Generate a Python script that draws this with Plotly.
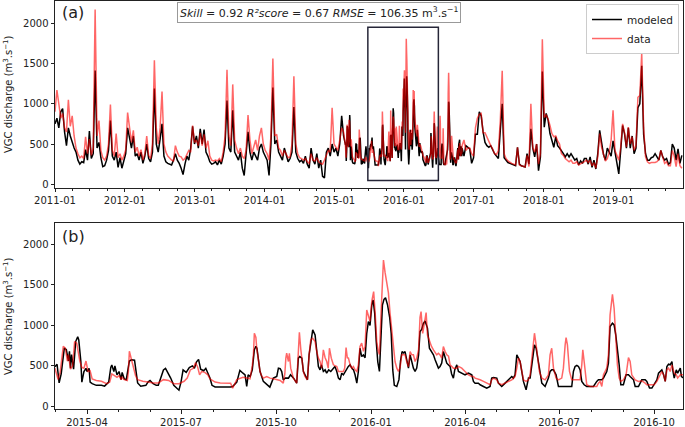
import numpy as np
import pandas as pd
import plotly.graph_objects as go

# ---------------- data ----------------
# Panel (a): values every 10 days from 2011-01-01 (segment A) and from 2016-10-31 (segment C)
top_a_start = "2011-01-01"
top_a_modeled = [
    750, 820, 700, 900, 940, 650, 480, 700, 600, 520, 450, 400, 300, 250, 280, 270, 430, 300, 660, 320,
    380, 1413, 450, 520, 330, 220, 230, 300, 420, 790, 350, 300, 400, 210, 330, 200, 300,
    380, 700, 550, 450, 600, 350, 380, 300, 400, 260, 350, 500, 320, 280, 400, 1190, 500, 400, 560, 750,
    350, 280, 260, 250, 240, 300, 380, 300, 260, 200, 120, 250, 350, 300, 450, 720, 500,
    600, 450, 690, 500, 680, 400, 350, 280, 250, 260, 280, 240, 300, 250, 350, 500, 1040, 450, 400, 920,
    400, 350, 300, 400, 200, 110, 350, 650, 400, 300, 400, 350, 300, 450, 500, 400,
    350, 300, 110, 500, 1200, 500, 550, 400, 350, 300, 450, 350, 280, 320, 400, 960, 400, 320, 280, 300,
    260, 350, 250, 200, 450, 300, 250, 380, 200, 300, 100, 80, 400, 450, 350, 500, 400,
    450, 350, 500, 850, 600,
]
top_a_data = [
    900, 1170, 1000, 820, 880, 700, 650, 1050, 720, 850, 600, 450, 380, 330, 350, 320, 590, 380, 560, 360,
    450, 2170, 600, 790, 420, 330, 300, 350, 500, 990, 420, 350, 630, 330, 380, 300, 350,
    430, 890, 700, 520, 670, 400, 460, 350, 430, 300, 380, 600, 360, 320, 500, 1540, 700, 500, 700, 1150,
    500, 400, 350, 320, 300, 290, 480, 400, 350, 340, 300, 320, 380, 420, 400, 730, 520,
    550, 480, 640, 480, 620, 450, 540, 350, 300, 290, 300, 290, 320, 280, 400, 600, 1420, 600, 480, 1240,
    550, 450, 380, 450, 350, 320, 420, 860, 550, 380, 460, 550, 420, 600, 700, 500,
    420, 380, 300, 600, 1560, 600, 620, 450, 420, 350, 420, 380, 330, 340, 500, 1340, 500, 380, 330, 320,
    300, 320, 280, 260, 380, 300, 290, 330, 280, 260, 250, 300, 350, 420, 400, 950, 500,
    450, 420, 550, 700, 650,
]
top_c_start = "2016-10-31"
top_c_modeled = [
    450, 350, 480, 460, 440, 260, 330, 620, 620, 900, 850, 650, 520, 480, 460, 480, 420, 380, 350, 320,
    670, 1000, 330, 300, 270, 260, 250, 240, 230, 460, 250, 230, 220, 215, 380, 250, 690, 450, 340, 500,
    170, 340, 1400, 710, 880, 800, 630, 550, 460, 590, 480, 450, 420, 380, 340, 380, 340, 380, 340, 300,
    320, 240,
    290, 260, 320, 320, 250, 340, 210, 300, 190, 380, 670, 500, 370, 300, 450, 400, 350, 540, 400, 300,
    130, 420, 730, 630, 450, 700, 450, 600, 380, 450, 950, 1000, 1470, 620, 380, 300, 300, 330, 340, 380,
    340, 300, 420, 340, 300, 320, 250, 270, 500, 450, 300, 440, 260, 360,
]
top_c_data = [
    480, 550, 420, 450, 450, 380, 350, 700, 820, 870, 880, 640, 640, 580, 520, 480, 440, 380, 370, 420,
    790, 1410, 380, 320, 290, 270, 260, 250, 240, 460, 240, 230, 220, 215, 360, 220, 1000, 450, 400, 500,
    250, 380, 1800, 830, 860, 810, 730, 630, 590, 600, 540, 500, 380, 360, 320, 300, 280, 300, 260, 260,
    280, 240,
    250, 260, 280, 300, 270, 300, 230, 270, 200, 340, 630, 460, 360, 290, 320, 400, 550, 920, 420, 350,
    300, 460, 750, 640, 460, 710, 500, 590, 420, 480, 1080, 1100, 1630, 700, 340, 280, 260, 270, 270, 270,
    280, 310, 420, 340, 260, 280, 230, 230, 420, 350, 220, 380, 230, 200,
]

# Panel (b): detailed series, day offsets from 2015-03-01
zoom_start = "2015-03-01"
zoom_mod_day = [
    0, 2, 4, 6, 9, 11, 13, 14, 15, 16, 18, 20, 22, 23, 25, 26, 28, 30, 31, 33, 34, 36, 40, 45, 48, 52, 54, 55,
    57, 58, 60, 62, 64, 65, 67, 69, 72, 74, 77, 78, 80, 83, 88, 90, 92, 95, 98, 100, 102, 105, 107, 110, 112,
    115, 118, 120, 122, 124, 127, 130, 133, 135, 137, 139, 141, 144, 146, 148, 150, 152, 155, 170, 172, 176,
    179, 182, 184, 185.6, 187, 189, 191, 193, 194.5, 195.5, 197, 198.5, 201.7, 205, 208, 211.4, 214.7, 216.3,
    218, 219.5, 221, 223, 226, 228, 231, 234, 235.6, 237, 239, 240.5, 242, 244.4, 246, 247.6, 249.5, 251.8,
    253.4, 255, 256.6, 258, 259.8, 261.5, 263, 265, 267, 269.5, 271, 272.8, 274.4, 276, 277.6, 279.2, 281,
    284, 285.7, 287.3, 289, 290.5, 292.2, 293.7, 295.3, 296.9, 298.6, 300.2, 301.8, 303.4, 305, 306.7, 308,
    309.5, 311, 312.5, 314.1, 315.5, 317, 318.5, 320, 322, 324, 325.5, 327, 328.5, 330.9, 333, 334.5, 336,
    337.5, 338.9, 340.5, 342.2, 343.8, 345.4, 347, 348.6, 350.2, 352, 353.4, 355, 356.5, 358.3, 360.6, 362.5,
    364.5, 366.4, 368, 369.6, 371.2, 372.8, 374.4, 376, 377.6, 379.3, 381, 382.5, 384, 385.7, 387, 389,
    390.6, 393.8, 397, 400.3, 403.5, 405.1, 406.7, 409.9, 411.6, 414.8, 418, 421.2, 422.8, 424.5, 427.7,
    429.3, 432.5, 435.8, 439, 440.6, 442.2, 443.8, 445.4, 447.1, 448.7, 450.3, 451.9, 453.5, 456.1, 458.4,
    460, 462.6, 464.2, 465.8, 467.1, 469, 471.3, 474.5, 477.7, 479.3, 480.9, 482.6, 485.1, 487.4, 490.6,
    494, 498, 500.3, 501.9, 503.5, 505.2, 506.8, 508.4, 510, 512.3, 514.8, 518, 521.3, 524.5, 526.1, 527.8,
    529.4, 531, 534.2, 535.8, 537.4, 539.7, 541.3, 542.9, 544.5, 546.2, 547.8, 550.3, 552.9, 555.2, 556.8,
    558.4, 560.1, 561.7, 564.9, 568.1, 571.4, 573, 575.6, 577.9, 580.1, 582.7, 584.3, 585.9, 587.5, 589.2,
    590.8, 592.4, 594, 595.6, 597.3, 598.3, 599.5, 601.5, 602.8, 605.4, 606.5, 608.6,
]
zoom_mod_val = [
    490, 520, 290, 400, 720, 700, 560, 680, 470, 640, 460, 800, 860, 820, 560, 300, 430, 470, 430, 470, 300,
    280, 260, 260, 250, 300, 480, 510, 430, 500, 390, 430, 330, 420, 340, 330, 560, 575, 570, 470, 290, 250,
    260, 300, 320, 280, 260, 260, 340, 450, 470, 400, 350, 260, 220, 200, 300, 450, 420, 480, 500, 470, 550,
    580, 460, 440, 470, 420, 350, 260, 240, 240, 245, 300, 445, 410, 390, 246, 390, 370, 450, 700, 740, 718,
    600, 431, 308, 267, 238, 349, 369, 472, 465, 430, 328, 350, 349, 390, 349, 287, 595, 615, 595, 431, 390,
    328, 636, 800, 944, 883, 677, 493, 451, 513, 431, 451, 410, 451, 431, 472, 493, 431, 349, 328, 410, 390,
    431, 493, 513, 472, 451, 390, 287, 431, 718, 615, 636, 600, 900, 1047, 1000, 1250, 1313, 1150, 800, 550,
    431, 800, 1250, 1320, 1340, 1250, 1100, 900, 450, 260, 246, 330, 560, 677, 660, 677, 575, 472, 636, 554,
    472, 431, 472, 636, 924, 950, 1020, 1055, 966, 718, 677, 636, 575, 513, 472, 493, 534, 677, 600, 534,
    510, 493, 400, 349, 450, 513, 431, 410, 390, 410, 390, 308, 287, 287, 267, 246, 226, 246, 349, 357, 349,
    287, 246, 287, 328, 349, 369, 349, 390, 636, 595, 554, 431, 308, 205, 349, 349, 636, 759, 718, 636, 472,
    287, 246, 349, 431, 451, 451, 390, 246, 246, 246, 246, 246, 431, 493, 505, 493, 451, 308, 267, 246, 246,
    246, 308, 328, 328, 328, 349, 431, 534, 985, 1026, 1006, 883, 718, 513, 267, 267, 390, 390, 369, 349,
    328, 246, 246, 328, 328, 308, 226, 226, 267, 328, 410, 431, 451, 390, 308, 493, 520, 513, 554, 431, 349,
    451, 410, 472, 369, 349,
]
zoom_dat_day = [
    0, 3, 5, 8, 10, 12, 13, 15, 17, 19, 21, 24, 26, 28, 30, 32, 34, 36, 40, 45, 50, 53, 55, 57, 60, 62, 64,
    65, 67, 70, 71, 72, 74, 76, 78, 80, 85, 90, 95, 100, 105, 110, 115, 120, 125, 128, 131, 134, 136, 138,
    140, 142, 145, 148, 150, 155, 160, 170, 172, 176, 179, 182, 185.6, 188.8, 191, 192.1, 193, 194.5, 195.3,
    196.9, 198.5, 200, 201.7, 205, 208.2, 211.4, 214.7, 218, 221, 222.5, 223.5, 224.3, 226, 226.9, 228.2,
    230.8, 234, 235.6, 236.6, 238, 238.9, 240.5, 242, 244.4, 246, 247.6, 249.5, 251.8, 253.4, 255, 256.6,
    258.2, 259.8, 261.5, 263.1, 264.5, 265.7, 267.5, 269.5, 272.8, 274.4, 276, 279.2, 280.5, 281.8, 283,
    284.1, 285.7, 287.3, 288.9, 290.5, 292.2, 293.7, 295.3, 296.9, 298.6, 300.2, 301.8, 303.4, 305, 306.7,
    308.5, 310, 311.5, 313, 314.1, 315.5, 316.8, 318, 319.6, 321, 322.8, 324.4, 326, 327.6, 329.2, 330.9,
    332.5, 334.1, 335.7, 337, 338.9, 340.5, 342.2, 343.8, 345.4, 347, 348.6, 350.2, 352, 353.4, 354.4, 356,
    357.5, 359.3, 360.6, 362.5, 364.5, 366.4, 368, 369.6, 371.2, 372.8, 374.4, 376, 377.6, 379.3, 381, 382.5,
    385.7, 389, 390.6, 393.8, 397, 400.3, 403.5, 405.1, 406.7, 409.9, 411.6, 414.8, 418, 421.2, 422.8, 424.5,
    427.7, 429.3, 432.5, 435.8, 439, 442.2, 443.8, 445.4, 447.1, 448.7, 450.3, 451.9, 453.5, 456.1, 458.4,
    460, 462.6, 464.2, 465.8, 467.1, 469, 471.3, 474.5, 477.7, 479.3, 480.9, 482.6, 485.1, 487.4, 490.6,
    492.2, 493.9, 494.8, 496.1, 498.1, 500.3, 505.2, 508.4, 510, 511, 512.3, 514.8, 518, 524.5, 526.1, 527.8,
    529.4, 531, 534.2, 535.8, 537.4, 539.7, 541.3, 542.9, 544.5, 546.2, 547.8, 550.3, 552.9, 555.2, 556.8,
    558.4, 560.1, 561.7, 564.9, 568.1, 571.4, 573, 575.6, 580.1, 582.7, 584.3, 585.9, 587.5, 589.2, 590.8,
    592.4, 594, 595.6, 597.3, 599.5, 601.5, 602.8, 605.4, 608.6,
]
zoom_dat_val = [
    470, 330, 420, 740, 720, 560, 640, 460, 500, 800, 780, 560, 480, 470, 560, 430, 440, 340, 320, 310, 280,
    300, 400, 380, 360, 380, 330, 360, 330, 320, 420, 680, 580, 480, 380, 330, 310, 300, 290, 290, 330, 320,
    280, 280, 310, 350, 450, 470, 540, 490, 390, 430, 420, 390, 340, 300, 290, 285, 226, 330, 349, 360, 350,
    340, 500, 636, 903, 850, 718, 595, 431, 380, 349, 369, 349, 340, 328, 320, 287, 400, 595, 656, 554, 656,
    472, 349, 287, 595, 915, 700, 595, 431, 369, 328, 636, 820, 841, 800, 677, 595, 554, 472, 697, 600, 554,
    472, 718, 595, 513, 493, 431, 431, 431, 472, 727, 600, 595, 513, 472, 493, 451, 431, 513, 739, 780, 680,
    740, 1190, 1100, 1050, 1300, 1416, 1150, 800, 680, 640, 1100, 1500, 1806, 1650, 1539, 1400, 1150, 924,
    718, 554, 472, 431, 480, 636, 640, 636, 554, 490, 677, 636, 636, 554, 595, 700, 1100, 1170, 900, 1000,
    1158, 880, 800, 740, 697, 660, 636, 656, 636, 595, 739, 680, 636, 620, 513, 472, 472, 493, 472, 431, 390,
    369, 369, 349, 340, 328, 308, 287, 267, 328, 349, 328, 287, 267, 287, 308, 328, 349, 369, 472, 595, 554,
    431, 328, 308, 328, 390, 718, 903, 759, 595, 431, 349, 328, 390, 636, 718, 472, 349, 328, 349, 472, 759,
    850, 759, 431, 328, 328, 328, 513, 697, 554, 267, 246, 246, 287, 308, 246, 390, 472, 636, 1129, 1383,
    1211, 800, 513, 349, 308, 328, 390, 603, 554, 390, 349, 328, 308, 316, 287, 267, 267, 267, 308, 349, 390,
    431, 390, 308, 451, 472, 431, 513, 410, 390, 349, 390, 390,
]

box_dates = ["2015-06-26", "2016-06-29"]
box_values = [46, 1949]
yticks = [0, 500, 1000, 1500, 2000]

# ---------------- build series ----------------
def grid(start, n):
    return pd.Timestamp(start) + pd.to_timedelta(10 * np.arange(n), unit="D")

def offs(start, days):
    return pd.Timestamp(start) + pd.to_timedelta(np.array(days, dtype=float), unit="D")

zm_x = offs(zoom_start, zoom_mod_day)
zd_x = offs(zoom_start, zoom_dat_day)

top_mod_x = list(grid(top_a_start, len(top_a_modeled))) + list(zm_x) + list(grid(top_c_start, len(top_c_modeled)))
top_mod_y = top_a_modeled + zoom_mod_val + top_c_modeled
top_dat_x = list(grid(top_a_start, len(top_a_data))) + list(zd_x) + list(grid(top_c_start, len(top_c_data)))
top_dat_y = top_a_data + zoom_dat_val + top_c_data

BLACK = "#000000"
RED = "rgba(255,0,0,0.6)"
FONT = "DejaVu Sans"
TXT = "#222222"

fig = go.Figure()
fig.add_trace(go.Scatter(x=top_mod_x, y=top_mod_y, mode="lines", name="modeled",
                         line=dict(color=BLACK, width=1.5), xaxis="x", yaxis="y"))
fig.add_trace(go.Scatter(x=top_dat_x, y=top_dat_y, mode="lines", name="data",
                         line=dict(color=RED, width=1.5), xaxis="x", yaxis="y"))
fig.add_trace(go.Scatter(x=zm_x, y=zoom_mod_val, mode="lines", showlegend=False,
                         line=dict(color=BLACK, width=1.5), xaxis="x2", yaxis="y2"))
fig.add_trace(go.Scatter(x=zd_x, y=zoom_dat_val, mode="lines", showlegend=False,
                         line=dict(color=RED, width=1.5), xaxis="x2", yaxis="y2"))

axis_common = dict(showline=True, mirror=True, linecolor=TXT, linewidth=1, showgrid=False,
                   zeroline=False, ticks="outside", ticklen=3.5, tickwidth=0.8, tickcolor=TXT,
                   automargin=False,
                   tickfont=dict(family=FONT, size=10, color=TXT))

fig.update_layout(
    width=685, height=427,
    margin=dict(l=55, r=2, t=1, b=18),
    paper_bgcolor="white", plot_bgcolor="white",
    font=dict(family=FONT, size=10, color=TXT),
    xaxis=dict(domain=[0, 1], anchor="y", type="date",
               range=["2011-01-01", "2019-12-31"], tick0="2011-01-01", dtick="M12",
               tickformat="%Y-%m",
               minor=dict(dtick="M3", tick0="2011-01-01", ticks="outside", ticklen=2,
                          tickcolor=TXT, showgrid=False),
               **axis_common),
    yaxis=dict(domain=[0.5424, 1], anchor="x", range=[-42, 2275], tickvals=yticks, **axis_common),
    xaxis2=dict(domain=[0, 1], anchor="y2", type="date",
                range=["2015-03-01", "2016-10-29"], tick0="2015-01-01", dtick="M3",
                tickformat="%Y-%m",
                minor=dict(dtick="M1", tick0="2015-01-01", ticks="outside", ticklen=2,
                           tickcolor=TXT, showgrid=False),
                **axis_common),
    yaxis2=dict(domain=[0, 0.4551], anchor="x2", range=[-32, 2259], tickvals=yticks, **axis_common),
    legend=dict(x=0.9936, y=0.9926, xanchor="right", yanchor="top", itemwidth=30,
                bgcolor="rgba(255,255,255,0.85)", bordercolor="#cccccc", borderwidth=1,
                font=dict(family=FONT, size=10.5, color=TXT), tracegroupgap=0),
    showlegend=True,
)

fig.add_shape(type="rect", xref="x", yref="y", x0=box_dates[0], x1=box_dates[1],
              y0=box_values[0], y1=box_values[1], line=dict(color="#262638", width=1.5))

ytitle = "VGC discharge (m<sup>3</sup>.s<sup>\u22121</sup>)"
for yc in [(409 - 94) / 408, (409 - 316) / 408]:
    fig.add_annotation(xref="paper", yref="paper", x=-0.0748, y=yc, xanchor="center", yanchor="middle",
                       text=ytitle, textangle=-90, showarrow=False,
                       font=dict(family=FONT, size=10, color=TXT))

fig.add_annotation(xref="paper", yref="paper", x=0.4196, y=0.9706, xanchor="center", yanchor="middle",
                   text="<i>Skill</i> = 0.92 <i>R\u00b2score</i> = 0.67 <i>RMSE</i> = 106.35 m<sup>3</sup>.s<sup>\u22121</sup>",
                   showarrow=False, font=dict(family=FONT, size=11, color=TXT),
                   bgcolor="white", bordercolor="#999999", borderwidth=1, borderpad=2)
fig.add_annotation(xref="paper", yref="paper", x=0.008, y=0.9706, xanchor="left", yanchor="middle",
                   text="(a)", showarrow=False, font=dict(family=FONT, size=16, color=TXT))
fig.add_annotation(xref="paper", yref="paper", x=0.008, y=(409 - 237) / 408, xanchor="left", yanchor="middle",
                   text="(b)", showarrow=False, font=dict(family=FONT, size=16, color=TXT))

fig.write_html("out.html", config={"displayModeBar": False},
               post_script="document.body.style.margin='0';document.body.style.padding='0';"
                           "document.documentElement.style.margin='0';")
